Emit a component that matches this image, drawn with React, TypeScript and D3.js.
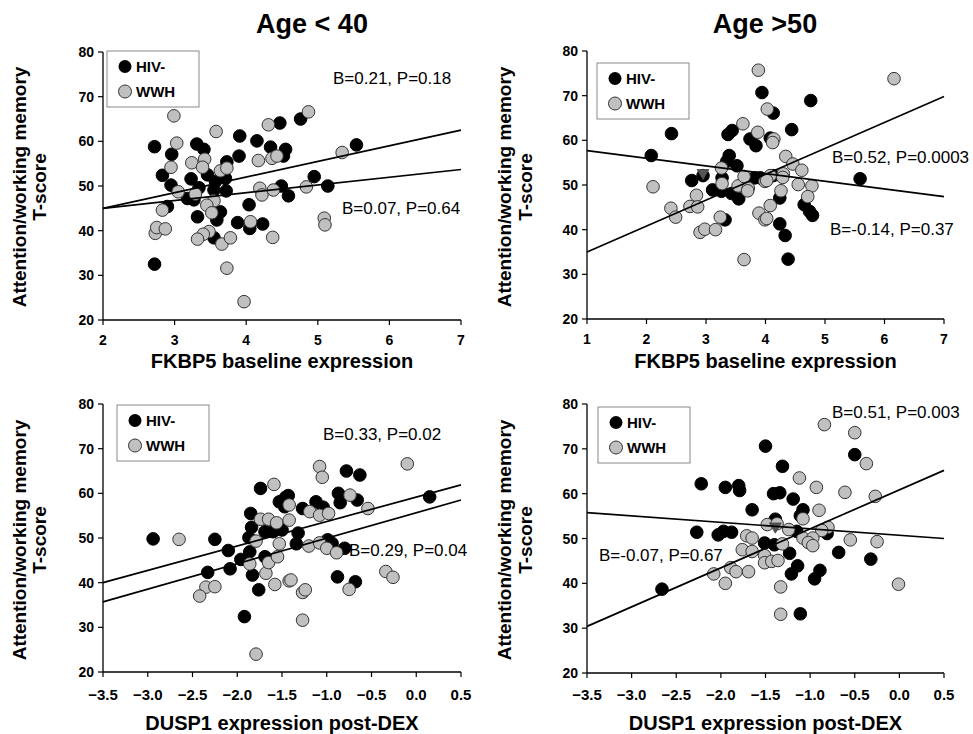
import React from 'react';
import * as d3 from 'd3';

const FONT = 'Arial, "Liberation Sans", Helvetica, sans-serif';
type P = [number, number];

// ---------- data ----------
const colTitles = ['Age < 40', 'Age >50'];
const xTitles = ['FKBP5 baseline expression', 'DUSP1 expression post-DEX'];
const yTitleLines = ['Attention/working memory', 'T-score'];
const legendLabels = ['HIV-', 'WWH'];

const yTicks = [20, 30, 40, 50, 60, 70, 80];
const xTicksP1 = [2, 3, 4, 5, 6, 7];
const xTicksP2 = [1, 2, 3, 4, 5, 6, 7];
const xTicksBottom = [-3.5, -3.0, -2.5, -2.0, -1.5, -1.0, -0.5, 0.0, 0.5];

const p1Black: P[] = [[2.72,58.8],[2.96,57.1],[2.83,52.4],[2.95,50.2],[2.90,45.4],[2.72,32.5],[3.31,59.4],[3.41,58.2],[3.23,51.6],[3.34,49.6],[3.18,47.2],[3.27,46.9],[3.32,43.1],[3.46,52.5],[3.57,51.0],[3.71,51.7],[3.73,55.4],[3.55,49.1],[3.72,48.9],[3.64,44.2],[3.59,42.4],[3.55,38.4],[3.91,61.2],[3.90,56.7],[3.88,41.8],[4.05,40.5],[4.04,45.8],[4.15,60.1],[4.34,58.7],[4.23,41.5],[4.47,64.1],[4.49,50.0],[4.76,65.0],[4.55,58.2],[4.52,56.7],[5.54,59.2],[4.95,52.1],[4.59,47.8],[5.14,50.0]];
const p1Gray: P[] = [[2.99,65.7],[3.03,59.6],[2.95,54.2],[3.05,48.7],[2.83,44.6],[2.73,39.4],[2.75,40.7],[2.87,40.4],[3.58,62.2],[3.24,55.2],[3.42,56.0],[3.39,54.2],[3.64,53.4],[3.73,54.0],[3.29,48.2],[3.55,46.7],[3.45,45.7],[3.52,44.0],[3.48,39.8],[3.40,39.2],[3.32,38.1],[3.66,37.0],[3.78,38.4],[3.73,31.6],[3.97,24.1],[4.06,42.0],[4.17,55.7],[4.19,49.5],[4.22,48.0],[4.31,63.7],[4.36,56.2],[4.43,56.7],[4.38,49.1],[4.37,38.5],[4.87,66.6],[5.34,57.5],[4.84,49.8],[5.09,42.8],[5.10,41.3]];
const p1Lines: P[][] = [[[2,45.0],[7,62.5]],[[2,45.0],[7,53.7]]];
const p1Stats = ['B=0.21, P=0.18', 'B=0.07, P=0.64'];

const p2Black: P[] = [[2.42,61.5],[2.08,56.6],[2.76,51.0],[2.95,52.1],[3.11,48.9],[3.27,51.6],[3.37,61.3],[3.44,62.2],[3.39,56.6],[3.35,55.3],[3.52,54.3],[3.26,48.6],[3.43,48.1],[3.55,46.9],[3.32,42.2],[3.74,60.3],[3.84,58.8],[3.94,70.7],[3.82,51.6],[3.91,51.6],[4.76,68.9],[4.13,66.1],[4.44,62.4],[4.08,60.5],[4.13,52.1],[5.59,51.4],[4.24,47.1],[4.65,45.6],[4.74,44.1],[4.79,43.2],[4.24,41.3],[4.33,38.7],[4.38,33.4]];
const p2Gray: P[] = [[3.88,75.7],[3.62,63.7],[3.87,61.8],[2.11,49.6],[2.41,44.8],[2.49,42.8],[2.73,45.2],[2.84,47.7],[2.86,45.1],[2.90,39.4],[2.98,40.1],[3.16,40.0],[3.24,42.8],[3.26,53.8],[3.27,50.3],[3.54,49.8],[3.64,51.9],[3.71,49.3],[3.70,48.7],[3.64,33.3],[3.89,43.7],[3.99,42.2],[3.99,50.8],[6.16,73.8],[4.03,67.0],[4.14,60.3],[4.12,59.5],[4.34,56.4],[4.46,54.7],[4.61,53.3],[4.30,52.5],[4.08,52.1],[4.02,51.0],[4.29,51.7],[4.55,50.1],[4.78,49.8],[4.26,48.7],[4.71,47.4],[4.08,45.4],[4.02,42.5]];
const p2Lines: P[][] = [[[1,57.7],[7,47.4]],[[1,35.0],[7,69.8]]];
const p2Markers: P[] = [[2.95,52.7]];
const p2Stats = ['B=0.52, P=0.0003', 'B=-0.14, P=0.37'];

const p3Black: P[] = [[-2.94,49.8],[-2.25,49.7],[-2.10,47.2],[-2.08,43.1],[-2.33,42.3],[-1.96,45.2],[-1.92,32.4],[-1.85,55.5],[-1.84,52.4],[-1.87,50.1],[-1.86,46.9],[-1.83,41.7],[-1.76,38.4],[-1.74,61.1],[-1.69,51.4],[-1.60,51.4],[-1.69,45.8],[-1.53,58.1],[-0.78,65.0],[-0.63,64.1],[-0.87,60.0],[-0.85,57.9],[-0.66,58.5],[-1.12,58.1],[-1.04,56.9],[-1.27,56.6],[-1.46,59.1],[-1.43,59.5],[-1.47,57.0],[-1.32,51.1],[-1.34,48.7],[-1.50,51.8],[-0.99,49.6],[-0.94,48.8],[-0.80,47.7],[0.15,59.2],[-0.88,41.3],[-0.68,40.2]];
const p3Gray: P[] = [[-2.65,49.7],[-2.35,39.0],[-2.25,39.1],[-2.42,37.0],[-1.79,24.0],[-1.79,49.3],[-1.86,44.2],[-1.74,54.2],[-1.65,54.2],[-1.56,53.4],[-1.59,62.0],[-1.68,42.1],[-1.65,44.5],[-1.58,39.6],[-1.53,48.7],[-1.55,45.8],[-0.10,66.6],[-1.08,66.0],[-1.05,63.6],[-0.74,59.6],[-0.54,56.6],[-1.42,57.4],[-1.19,55.9],[-1.08,55.1],[-0.98,55.5],[-1.42,54.0],[-1.20,48.2],[-1.08,48.9],[-1.00,47.7],[-0.89,46.7],[-0.34,42.5],[-0.26,41.2],[-1.42,40.4],[-1.40,40.6],[-1.27,37.8],[-1.24,38.4],[-0.75,38.5],[-1.27,31.6]];
const p3Lines: P[][] = [[[-3.5,40.0],[0.5,61.9]],[[-3.5,35.7],[0.5,58.5]]];
const p3Stats = ['B=0.33, P=0.02', 'B=0.29, P=0.04'];

const p4Black: P[] = [[-2.22,62.2],[-1.95,61.4],[-1.80,61.8],[-1.79,60.7],[-1.65,56.4],[-2.27,51.4],[-2.03,50.8],[-1.97,51.6],[-1.88,51.4],[-2.66,38.7],[-1.50,70.6],[-1.31,66.1],[-0.50,68.7],[-1.41,60.0],[-1.34,60.2],[-1.19,58.8],[-1.08,56.4],[-1.11,55.1],[-1.39,54.3],[-1.15,51.6],[-0.81,51.1],[-1.51,49.0],[-1.40,48.6],[-1.23,46.7],[-0.68,46.9],[-0.32,45.4],[-1.14,43.9],[-1.21,42.1],[-0.89,42.9],[-0.95,41.0],[-1.11,33.2]];
const p4Gray: P[] = [[-1.71,50.6],[-1.65,50.1],[-1.76,47.5],[-1.65,47.1],[-2.08,42.1],[-1.89,43.5],[-1.83,42.6],[-1.95,40.0],[-1.69,42.6],[-1.48,53.1],[-1.51,46.2],[-0.84,75.4],[-0.50,73.6],[-0.37,66.7],[-1.12,63.5],[-0.93,61.4],[-0.61,60.3],[-0.27,59.4],[-0.90,56.3],[-1.08,54.4],[-1.37,53.3],[-1.24,52.0],[-0.80,52.5],[-0.87,51.8],[-1.08,50.1],[-0.97,50.1],[-1.02,49.1],[-0.97,48.4],[-0.55,49.7],[-0.25,49.3],[-1.31,48.8],[-1.51,44.6],[-1.43,44.9],[-1.36,45.1],[-1.33,39.2],[-1.33,33.1],[-0.01,39.8]];
const p4Lines: P[][] = [[[-3.5,55.75],[0.5,50.0]],[[-3.5,30.4],[0.5,65.2]]];
const p4Markers: P[] = [[-1.39,52.7]];
const p4Stats = ['B=0.51, P=0.003', 'B=-0.07, P=0.67'];

// ---------- layout ----------
interface PanelCfg {
  left: number; top: number; right: number; bottom: number;
  xDomain: [number, number]; xTicks: number[]; fmt: (d: number) => string;
  black: P[]; gray: P[]; lines: P[][]; markers: P[]; stats: string[];
  statPos: [number, number][]; legend: [number, number];
  xTitle: string; tickBaseline: number; tickSize: number; xTitleBaseline: number;
  yTitleX: [number, number]; yTitleY: number;
}

const fInt = (d: number) => String(d);
const f1 = d3.format('.1f');

const panels: PanelCfg[] = [
  { left: 103, top: 52, right: 461, bottom: 320, xDomain: [2, 7], xTicks: xTicksP1, fmt: fInt,
    black: p1Black, gray: p1Gray, lines: p1Lines, markers: [], stats: p1Stats,
    statPos: [[333, 84], [342, 214]], legend: [107, 51], xTitle: xTitles[0],
    tickBaseline: 345, tickSize: 14, xTitleBaseline: 368, yTitleX: [26, 46], yTitleY: 187 },
  { left: 587, top: 51, right: 944, bottom: 319, xDomain: [1, 7], xTicks: xTicksP2, fmt: fInt,
    black: p2Black, gray: p2Gray, lines: p2Lines, markers: p2Markers, stats: p2Stats,
    statPos: [[832, 163], [830, 235]], legend: [597, 63], xTitle: xTitles[0],
    tickBaseline: 344, tickSize: 14, xTitleBaseline: 368, yTitleX: [511, 532], yTitleY: 187 },
  { left: 103, top: 404, right: 461, bottom: 672, xDomain: [-3.5, 0.5], xTicks: xTicksBottom, fmt: f1,
    black: p3Black, gray: p3Gray, lines: p3Lines, markers: [], stats: p3Stats,
    statPos: [[323, 440], [349, 556]], legend: [117, 405], xTitle: xTitles[1],
    tickBaseline: 700, tickSize: 15, xTitleBaseline: 730, yTitleX: [26, 46], yTitleY: 540 },
  { left: 587, top: 404, right: 944, bottom: 673, xDomain: [-3.5, 0.5], xTicks: xTicksBottom, fmt: f1,
    black: p4Black, gray: p4Gray, lines: p4Lines, markers: p4Markers, stats: p4Stats,
    statPos: [[832, 418], [599, 561]], legend: [598, 407], xTitle: xTitles[1],
    tickBaseline: 700, tickSize: 15, xTitleBaseline: 730, yTitleX: [511, 532], yTitleY: 540 },
];

const GRAY = '#c0c0c0';
const R = 6.3;

function Panel({ c }: { c: PanelCfg }) {
  const x = d3.scaleLinear().domain(c.xDomain).range([c.left, c.right]);
  const y = d3.scaleLinear().domain([20, 80]).range([c.bottom, c.top]);
  const line = d3.line<P>().x(d => x(d[0])).y(d => y(d[1]));
  const tri = d3.symbol().type(d3.symbolTriangle).size(60)();
  const cx = (c.left + c.right) / 2;
  return (
    <g>
      {c.black.map((d, i) => (
        <circle key={'b' + i} cx={x(d[0])} cy={y(d[1])} r={R} fill="#000" stroke="#000" strokeWidth={1} />
      ))}
      {c.gray.map((d, i) => (
        <circle key={'g' + i} cx={x(d[0])} cy={y(d[1])} r={R} fill={GRAY} stroke="#333" strokeWidth={1} />
      ))}
      {c.markers.map((d, i) => (
        <path key={'m' + i} d={tri || ''} transform={`translate(${x(d[0])},${y(d[1])}) rotate(180)`} fill="#555" stroke="#444" strokeWidth={0.8} />
      ))}
      {c.lines.map((l, i) => (
        <path key={'l' + i} d={line(l) || ''} stroke="#000" strokeWidth={1.7} fill="none" />
      ))}
      <line x1={c.left} x2={c.left} y1={c.top} y2={c.bottom} stroke="#000" strokeWidth={1.3} />
      <line x1={c.left} x2={c.right} y1={c.bottom} y2={c.bottom} stroke="#000" strokeWidth={1.3} />
      {yTicks.map(t => (
        <g key={'yt' + t}>
          <line x1={c.left - 5} x2={c.left} y1={y(t)} y2={y(t)} stroke="#000" strokeWidth={1.2} />
          <text x={c.left - 9} y={y(t) + 5} textAnchor="end" fontFamily={FONT} fontWeight="bold" fontSize={14}>{t}</text>
        </g>
      ))}
      {c.xTicks.map(t => (
        <g key={'xt' + t}>
          <line x1={x(t)} x2={x(t)} y1={c.bottom} y2={c.bottom + 5} stroke="#000" strokeWidth={1.2} />
          <text x={x(t)} y={c.tickBaseline} textAnchor="middle" fontFamily={FONT} fontWeight="bold" fontSize={c.tickSize}>{c.fmt(t)}</text>
        </g>
      ))}
      <text x={cx} y={c.xTitleBaseline} textAnchor="middle" fontFamily={FONT} fontWeight="bold" fontSize={20}>{c.xTitle}</text>
      {yTitleLines.map((s, i) => (
        <text key={'yl' + i} transform={`translate(${c.yTitleX[i]},${c.yTitleY}) rotate(-90)`} textAnchor="middle" fontFamily={FONT} fontWeight="bold" fontSize={19}>{s}</text>
      ))}
      {c.stats.map((s, i) => (
        <text key={'s' + i} x={c.statPos[i][0]} y={c.statPos[i][1]} fontFamily={FONT} fontSize={17}>{s}</text>
      ))}
      <g transform={`translate(${c.legend[0]},${c.legend[1]})`}>
        <rect x={0} y={0} width={92} height={56} fill="#fff" stroke="#888" strokeWidth={1} />
        <circle cx={18} cy={15.5} r={6.5} fill="#000" />
        <circle cx={18} cy={40.5} r={6.5} fill={GRAY} stroke="#333" strokeWidth={1} />
        <text x={29} y={21} fontFamily={FONT} fontWeight="bold" fontSize={15}>{legendLabels[0]}</text>
        <text x={29} y={46} fontFamily={FONT} fontWeight="bold" fontSize={15}>{legendLabels[1]}</text>
      </g>
    </g>
  );
}

export default function App() {
  return (
    <svg width={973} height={734} style={{ position: 'absolute', left: 0, top: 0, background: '#fff' }}>
      <rect width={973} height={734} fill="#fff" />
      <text x={312} y={33} textAnchor="middle" fontFamily={FONT} fontWeight="bold" fontSize={27}>{colTitles[0]}</text>
      <text x={765} y={33} textAnchor="middle" fontFamily={FONT} fontWeight="bold" fontSize={27}>{colTitles[1]}</text>
      {panels.map((c, i) => <Panel key={i} c={c} />)}
    </svg>
  );
}
